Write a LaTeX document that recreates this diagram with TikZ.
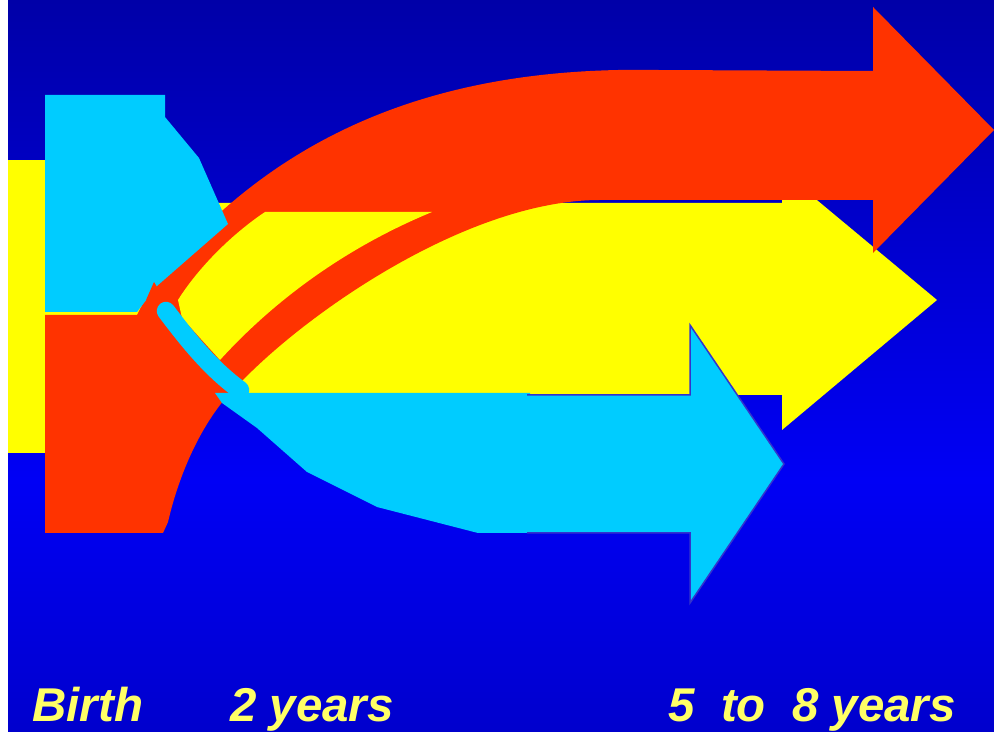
\documentclass[tikz,border=0pt]{standalone}
\usepackage{fontspec}
\setmainfont{Liberation Sans}
\definecolor{bgtop}{RGB}{0,0,168}
\definecolor{bgmid}{RGB}{0,0,245}
\definecolor{bgbot}{RGB}{0,0,205}
\definecolor{arrred}{RGB}{255,51,0}
\definecolor{arryel}{RGB}{255,255,0}
\definecolor{arrcyan}{RGB}{0,204,255}
\definecolor{rimblue}{RGB}{51,51,204}
\definecolor{labelyel}{RGB}{255,255,102}

\begin{document}
\begin{tikzpicture}[x=0.02cm, y=-0.02cm,
  redpart/.style={fill=arrred},
  yelpart/.style={fill=arryel},
  cyanpart/.style={fill=arrcyan},
  cyanrim/.style={draw=rimblue, line width=0.03cm, line join=miter},
  cyanstem/.style={draw=arrcyan, line width=0.37cm, line cap=round},
  agelabel/.style={anchor=base west, inner sep=0pt, text=labelyel,
    font=\fontsize{27}{32}\selectfont\bfseries\itshape}
]
\useasboundingbox (0,0) rectangle (994,732);
% backdrop
\fill[white] (0,0) rectangle (8,732);
\shade[top color=bgtop, bottom color=bgmid] (8,0) rectangle (994,480);
\shade[top color=bgmid, bottom color=bgbot] (8,480) rectangle (994,732);

% yellow strip behind the blocks
\fill[yelpart] (8,160) rectangle (150,453);
% yellow arrow
\fill[yelpart] (150,203) -- (782,203) -- (782,171) -- (937,300) -- (782,430) -- (782,395) -- (150,395) -- cycle;

% red block and curved red arrow
\fill[redpart] (45,533) -- (45,315) -- (137,315) -- (153,284)
  .. controls (280,125) and (450,66) .. (657,70) -- (873,71) -- (873,7) -- (994,130) -- (873,253) -- (873,200)
  -- (600,200) .. controls (470,200) and (310,310) .. (240,383)
  .. controls (205,415) and (180,470) .. (168,522) -- (163,533) -- cycle;
% yellow between the two red bands
\fill[yelpart] (178,300) .. controls (200,265) and (235,232) .. (265,212) -- (432,212)
  .. controls (340,250) and (270,305) .. (220,360) -- (182,318) -- cycle;

% cyan block
\fill[cyanpart] (45,95) -- (165,95) -- (165,117) -- (199,158) -- (228,224) -- (157,286) -- (137,312) -- (45,312) -- cycle;
\fill[redpart] (146,300) -- (154,282) -- (160,292) -- cycle;

% cyan stem and arrow
\draw[cyanstem] (166,311) .. controls (188,340) and (210,368) .. (240,390);
\fill[cyanpart] (215,393) -- (530,393) -- (530,533) -- (478,533) -- (377,507) -- (307,472) -- (257,428) -- (222,403) -- cycle;
\filldraw[cyanpart, cyanrim] (527,395) -- (690,395) -- (690,325) -- (784,464) -- (690,603) -- (690,533) -- (527,533);

% ages
\node[agelabel] (birth) at (32,722) {Birth};
\node[agelabel] (twoyears) at (230,722) {2 years};
\node[agelabel] (schoolage) at (668,722) {5\ \ to\ \ 8 years};
\end{tikzpicture}
\end{document}
